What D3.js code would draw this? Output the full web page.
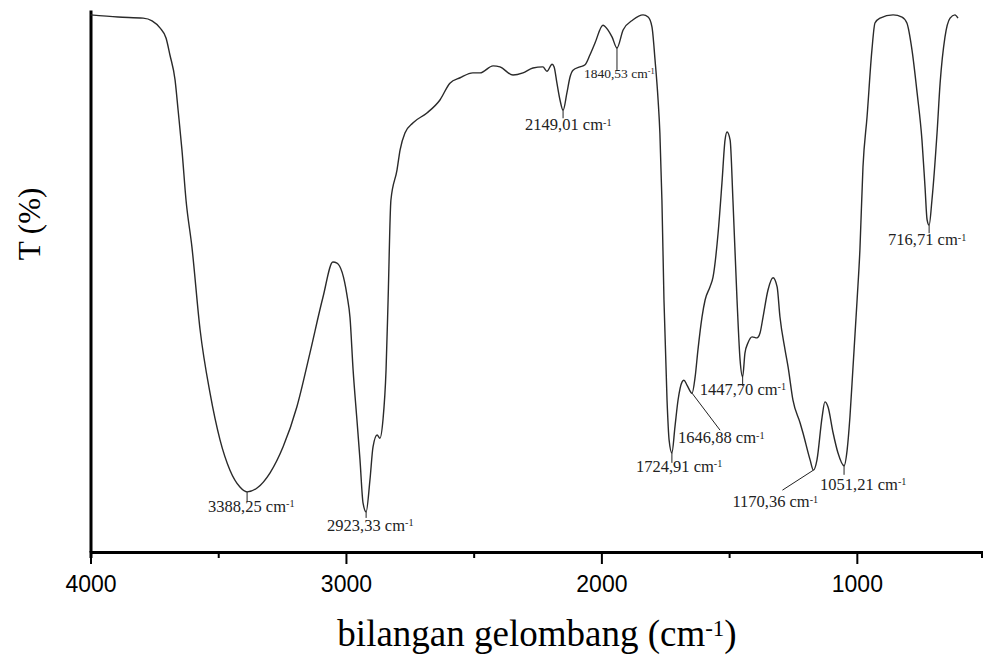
<!DOCTYPE html>
<html lang="en">
<head>
  <meta charset="utf-8">
  <title>FTIR spectrum</title>
  <script src="https://cdn.jsdelivr.net/npm/d3@7"></script>
  <style type="text/css">
    body {
      margin: 0;
      background: #fff;
    }
    .tick text {
      font-family: "Liberation Sans", Arial, sans-serif;
      font-size: 23px;
      fill: #000;
    }
    .axisTitle {
      font-family: "Liberation Serif", "Times New Roman", serif;
      fill: #000;
    }
    .peakText {
      font-family: "Liberation Serif", "Times New Roman", serif;
      font-size: 16.5px;
      fill: #222;
    }
  </style>
</head>
<body>
<script>
  // spectrum (wavenumber cm-1, transmittance in arbitrary %)
  var wavenumber = [4000, 3892, 3794, 3759, 3728, 3704, 3689, 3669, 3657, 3642, 3626, 3603, 3571, 3532, 3493, 3454, 3415, 3387,
    3348, 3297, 3246, 3192, 3141, 3090, 3051, 3035, 2996, 2984, 2972, 2957, 2945, 2933, 2921, 2906, 2894, 2878, 2867, 2855,
    2843, 2835, 2824, 2800, 2788, 2769, 2737, 2683, 2632, 2593, 2553, 2503, 2475, 2424, 2397, 2346, 2307, 2268, 2229, 2213,
    2193, 2185, 2174, 2162, 2150, 2135, 2123, 2111, 2084, 2064, 2045, 2025, 1994, 1974, 1958, 1939, 1915, 1876, 1837, 1817,
    1802, 1790, 1778, 1771, 1763, 1755, 1743, 1735, 1724, 1712, 1700, 1684, 1677, 1665, 1645, 1633, 1622, 1606, 1594, 1575,
    1563, 1543, 1528, 1516, 1508, 1496, 1485, 1469, 1457, 1447, 1438, 1426, 1410, 1391, 1379, 1367, 1348, 1328, 1312, 1301,
    1281, 1269, 1250, 1222, 1211, 1183, 1170, 1156, 1136, 1125, 1113, 1093, 1074, 1050, 1038, 1027, 1015, 999, 988, 976,
    960, 941, 929, 909, 858, 823, 804, 784, 764, 745, 733, 725, 717, 706, 686, 674, 655, 635, 616, 604];
  var transmittance = [99.1, 98.7, 98.5, 98.0, 96.7, 94.8, 91.7, 87.1, 81.5, 74.2, 64.9, 56.3, 41.0, 29.3, 20.7, 15.1, 12.0, 11.1,
    11.8, 14.6, 19.4, 26.8, 36.7, 47.0, 53.5, 53.3, 47.4, 43.2, 33.6, 24.4, 17.0, 9.0, 7.4, 13.3, 19.4, 21.6, 21.0, 24.4,
    33.6, 46.5, 64.9, 70.5, 74.2, 77.3, 79.2, 81.0, 83.4, 86.5, 87.5, 88.4, 88.4, 89.7, 89.5, 88.0, 88.4, 89.3, 89.5, 88.7,
    90.0, 89.5, 86.5, 83.4, 81.5, 84.7, 87.6, 88.9, 89.5, 89.9, 91.7, 93.9, 97.2, 96.3, 95.0, 93.0, 96.3, 98.2, 99.1, 98.7,
    96.9, 90.8, 83.4, 77.3, 64.9, 46.5, 28.0, 20.7, 18.3, 23.1, 28.0, 31.4, 31.7, 30.8, 29.3, 32.3, 37.3, 43.4, 46.5, 48.9,
    50.7, 58.9, 68.1, 76.0, 77.5, 76.0, 64.9, 46.5, 35.4, 32.3, 36.7, 38.6, 39.7, 39.5, 40.4, 43.4, 48.3, 50.6, 48.9, 43.4,
    37.3, 34.1, 28.0, 23.8, 22.0, 17.0, 15.1, 17.0, 24.9, 27.7, 26.8, 22.0, 18.3, 15.9, 18.8, 24.9, 34.1, 46.5, 55.7, 71.0,
    80.3, 92.6, 97.6, 98.5, 99.1, 98.7, 97.6, 92.6, 84.7, 76.0, 67.3, 61.3, 60.3, 64.9, 77.3, 86.5, 95.0, 98.5, 99.1, 98.5];

  // marked bands: where the marker sits on the curve, and the printed label
  var peakAt = [3387, 2921, 2150, 1939, 1724, 1645, 1447, 1170, 1050, 717];
  var peakLabel = ["3388,25", "2923,33", "2149,01", "1840,53", "1724,91", "1646,88", "1447,70", "1170,36", "1051,21", "716,71"];

  var xTicks = [4000, 3000, 2000, 1000];
  var xMinorTicks = [3500, 2500, 1500];

  var width = 983, height = 657;

  var x = d3.scaleLinear().domain([4000, 510]).range([90.5, 982]);
  var y = d3.scaleLinear().domain([0, 100]).range([552, 10]);

  var svg = d3.select("body").append("svg")
    .attr("width", width)
    .attr("height", height);

  var data = wavenumber.map(function (w, i) {
    return { w: w, t: transmittance[i] };
  });

  // minor ticks first, main axis on top
  svg.append("g")
    .attr("transform", "translate(0,552)")
    .call(d3.axisBottom(x).tickValues(xMinorTicks).tickSize(6).tickSizeOuter(0).tickFormat(""))
    .call(function (g) { g.select(".domain").remove(); })
    .selectAll("line").attr("stroke-width", 2);

  var xAxis = svg.append("g")
    .attr("transform", "translate(0,552)")
    .call(d3.axisBottom(x).tickValues(xTicks).tickSize(12).tickSizeOuter(6).tickFormat(d3.format("d")));
  xAxis.select(".domain").attr("stroke-width", 3);
  xAxis.selectAll(".tick line").attr("stroke-width", 2);
  xAxis.selectAll(".tick text").attr("y", 40).attr("dy", 0);

  var yAxis = svg.append("g")
    .attr("transform", "translate(90.5,0)")
    .call(d3.axisLeft(y).tickValues([]).tickSizeOuter(0));
  yAxis.select(".domain").attr("stroke-width", 3);

  var line = d3.line()
    .x(function (d) { return x(d.w); })
    .y(function (d) { return y(d.t); })
    .curve(d3.curveMonotoneX);

  svg.append("path")
    .datum(data)
    .attr("fill", "none")
    .attr("stroke", "#2a2a2a")
    .attr("stroke-width", 1.4)
    .attr("d", line);

  // axis titles
  var xt = svg.append("text")
    .attr("class", "axisTitle")
    .attr("x", 537)
    .attr("y", 646)
    .attr("text-anchor", "middle")
    .style("font-size", "37px")
    .text("bilangan gelombang (cm");
  xt.append("tspan").attr("dy", "-0.45em").style("font-size", "0.62em").text("-1");
  xt.append("tspan").attr("dy", "0.28em").text(")");

  svg.append("text")
    .attr("class", "axisTitle")
    .attr("transform", "translate(40,224) rotate(-90)")
    .attr("text-anchor", "middle")
    .style("font-size", "31px")
    .text("T (%)");

  // band labels: connector + text offset (px) from the marker
  var labelLayout = [
    { lx: 0, ly: 10, tx: -39, ty: 20 },
    { lx: 0, ly: 6, tx: -39, ty: 19 },
    { lx: 0, ly: 8, tx: -38, ty: 20 },
    { lx: 0, ly: 22, tx: -33, ty: 30, small: true },
    { lx: 0, ly: 10, tx: -36, ty: 19 },
    { lx: 28, ly: 37, tx: -14, ty: 50 },
    { lx: 0, ly: 9, tx: -43, ty: 18 },
    { lx: -31, ly: 20, tx: -81, ty: 37 },
    { lx: 0, ly: 9, tx: -24, ty: 24 },
    { lx: 0, ly: 8, tx: -41, ty: 20 }
  ];

  var bisect = d3.bisector(function (d) { return -d.w; }).left;
  function curveT(w) {
    var i = bisect(data, -w);
    if (i <= 0) return data[0].t;
    if (i >= data.length) return data[data.length - 1].t;
    var a = data[i - 1], b = data[i];
    return a.t + (b.t - a.t) * (a.w - w) / (a.w - b.w);
  }

  peakAt.forEach(function (w, i) {
    var px = x(w), py = y(curveT(w));
    var lay = labelLayout[i];
    svg.append("line")
      .attr("x1", px).attr("y1", py)
      .attr("x2", px + lay.lx).attr("y2", py + lay.ly)
      .attr("stroke", "#222")
      .attr("stroke-width", 1);
    var t = svg.append("text")
      .attr("class", "peakText")
      .attr("x", px + lay.tx)
      .attr("y", py + lay.ty)
      .style("font-size", lay.small ? "13.5px" : null)
      .text(peakLabel[i] + " cm");
    t.append("tspan").attr("dy", "-0.45em").style("font-size", "0.62em").text("-1");
  });
</script>
</body>
</html>
